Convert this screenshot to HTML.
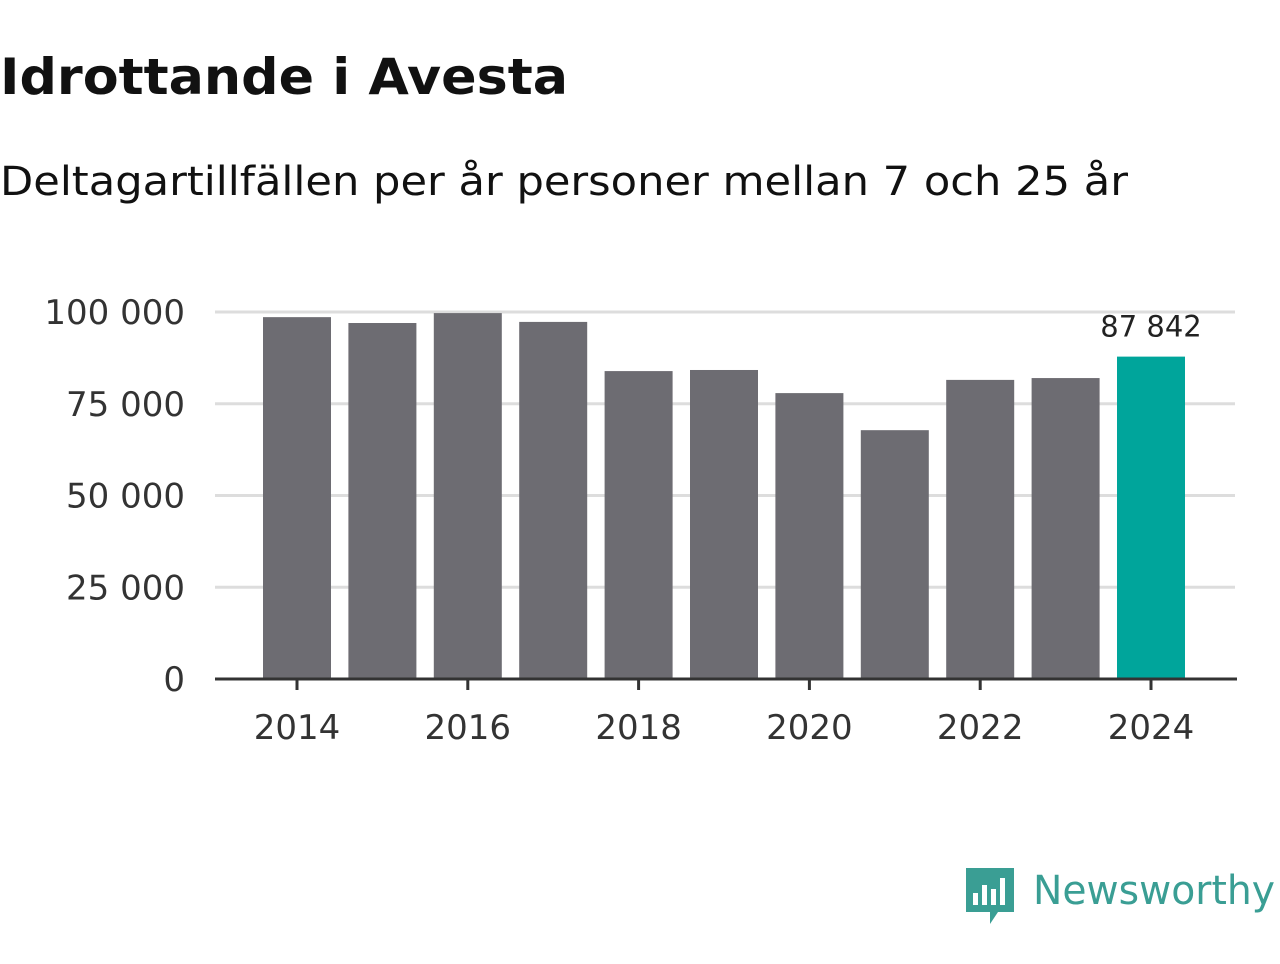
<!DOCTYPE html>
<html><head><meta charset="utf-8"><style>
body{margin:0;background:#fff;width:1280px;height:960px;overflow:hidden;font-family:"DejaVu Sans","Liberation Sans",sans-serif}
</style></head><body>
<svg width="1280" height="960" xmlns="http://www.w3.org/2000/svg" font-family="DejaVu Sans, Liberation Sans, sans-serif">
<text x="0" y="94" font-size="50" font-weight="bold" fill="#111" textLength="568" lengthAdjust="spacingAndGlyphs">Idrottande i Avesta</text>
<text x="0" y="195" font-size="40" fill="#111" textLength="1128" lengthAdjust="spacingAndGlyphs">Deltagartillfällen per år personer mellan 7 och 25 år</text>
<g id="grid"></g><g id="bars"></g><g id="xaxis"></g>
<g>
<path d="M966 868 h48 v44 h-16 l-8 12 v-12 h-24 z" fill="#3a9e94"/>
<rect x="973" y="893" width="5" height="12" fill="#fff"/><rect x="982" y="885" width="5" height="20" fill="#fff"/><rect x="991" y="889" width="5" height="16" fill="#fff"/><rect x="1000" y="878" width="5" height="27" fill="#fff"/>
<text x="1033" y="904" font-size="40" fill="#3a9e94" textLength="242" lengthAdjust="spacingAndGlyphs">Newsworthy</text>
</g>
</svg>
<script>
const years=[2014,2015,2016,2017,2018,2019,2020,2021,2022,2023,2024];
const values=[98600,97000,99700,97300,83900,84200,77900,67800,81500,82000,87842];
const yTicks=[0,25000,50000,75000,100000];
const yTickLabels=["0","25 000","50 000","75 000","100 000"];
const xTicks=[2014,2016,2018,2020,2022,2024];
const NS="http://www.w3.org/2000/svg";
const y=v=>679-v*367/100000;
const x=yr=>297+(yr-2014)*85.4;
function mk(t,a,p){const e=document.createElementNS(NS,t);for(const k in a)e.setAttribute(k,a[k]);p.appendChild(e);return e;}
const g=document.getElementById('grid'),b=document.getElementById('bars'),xa=document.getElementById('xaxis');
yTicks.forEach((t,i)=>{
 if(t>0){const l=mk('line',{x1:215,x2:1235,y1:y(t),y2:y(t),stroke:'#ddd','stroke-width':3},g);
 
 }
 const tx=mk('text',{x:185,y:y(t)+12,'font-size':34,fill:'#333','text-anchor':'end'},g);tx.textContent=yTickLabels[i];
 
 
});
years.forEach((yr,i)=>{
 const r=mk('rect',{x:x(yr)-34,y:y(values[i]),width:68,height:679-y(values[i]),fill:yr==2024?'#00a59b':'#6d6c72'},b);
 
 
});
const lab=mk('text',{x:x(2024),y:y(values[10])-20,'font-size':29,fill:'#222','text-anchor':'middle'},b);
lab.textContent=values[10].toLocaleString('sv-SE').replace(/\s/g,' ');


const ax=mk('line',{x1:215,x2:1237,y1:679,y2:679,stroke:'#333','stroke-width':3},xa);


xTicks.forEach(yr=>{
 mk('line',{x1:x(yr),x2:x(yr),y1:679,y2:690,stroke:'#333','stroke-width':3},xa);
 const t=mk('text',{x:x(yr),y:739,'font-size':34,fill:'#333','text-anchor':'middle'},xa);t.textContent=yr;
 
 
});
</script>
</body></html>
